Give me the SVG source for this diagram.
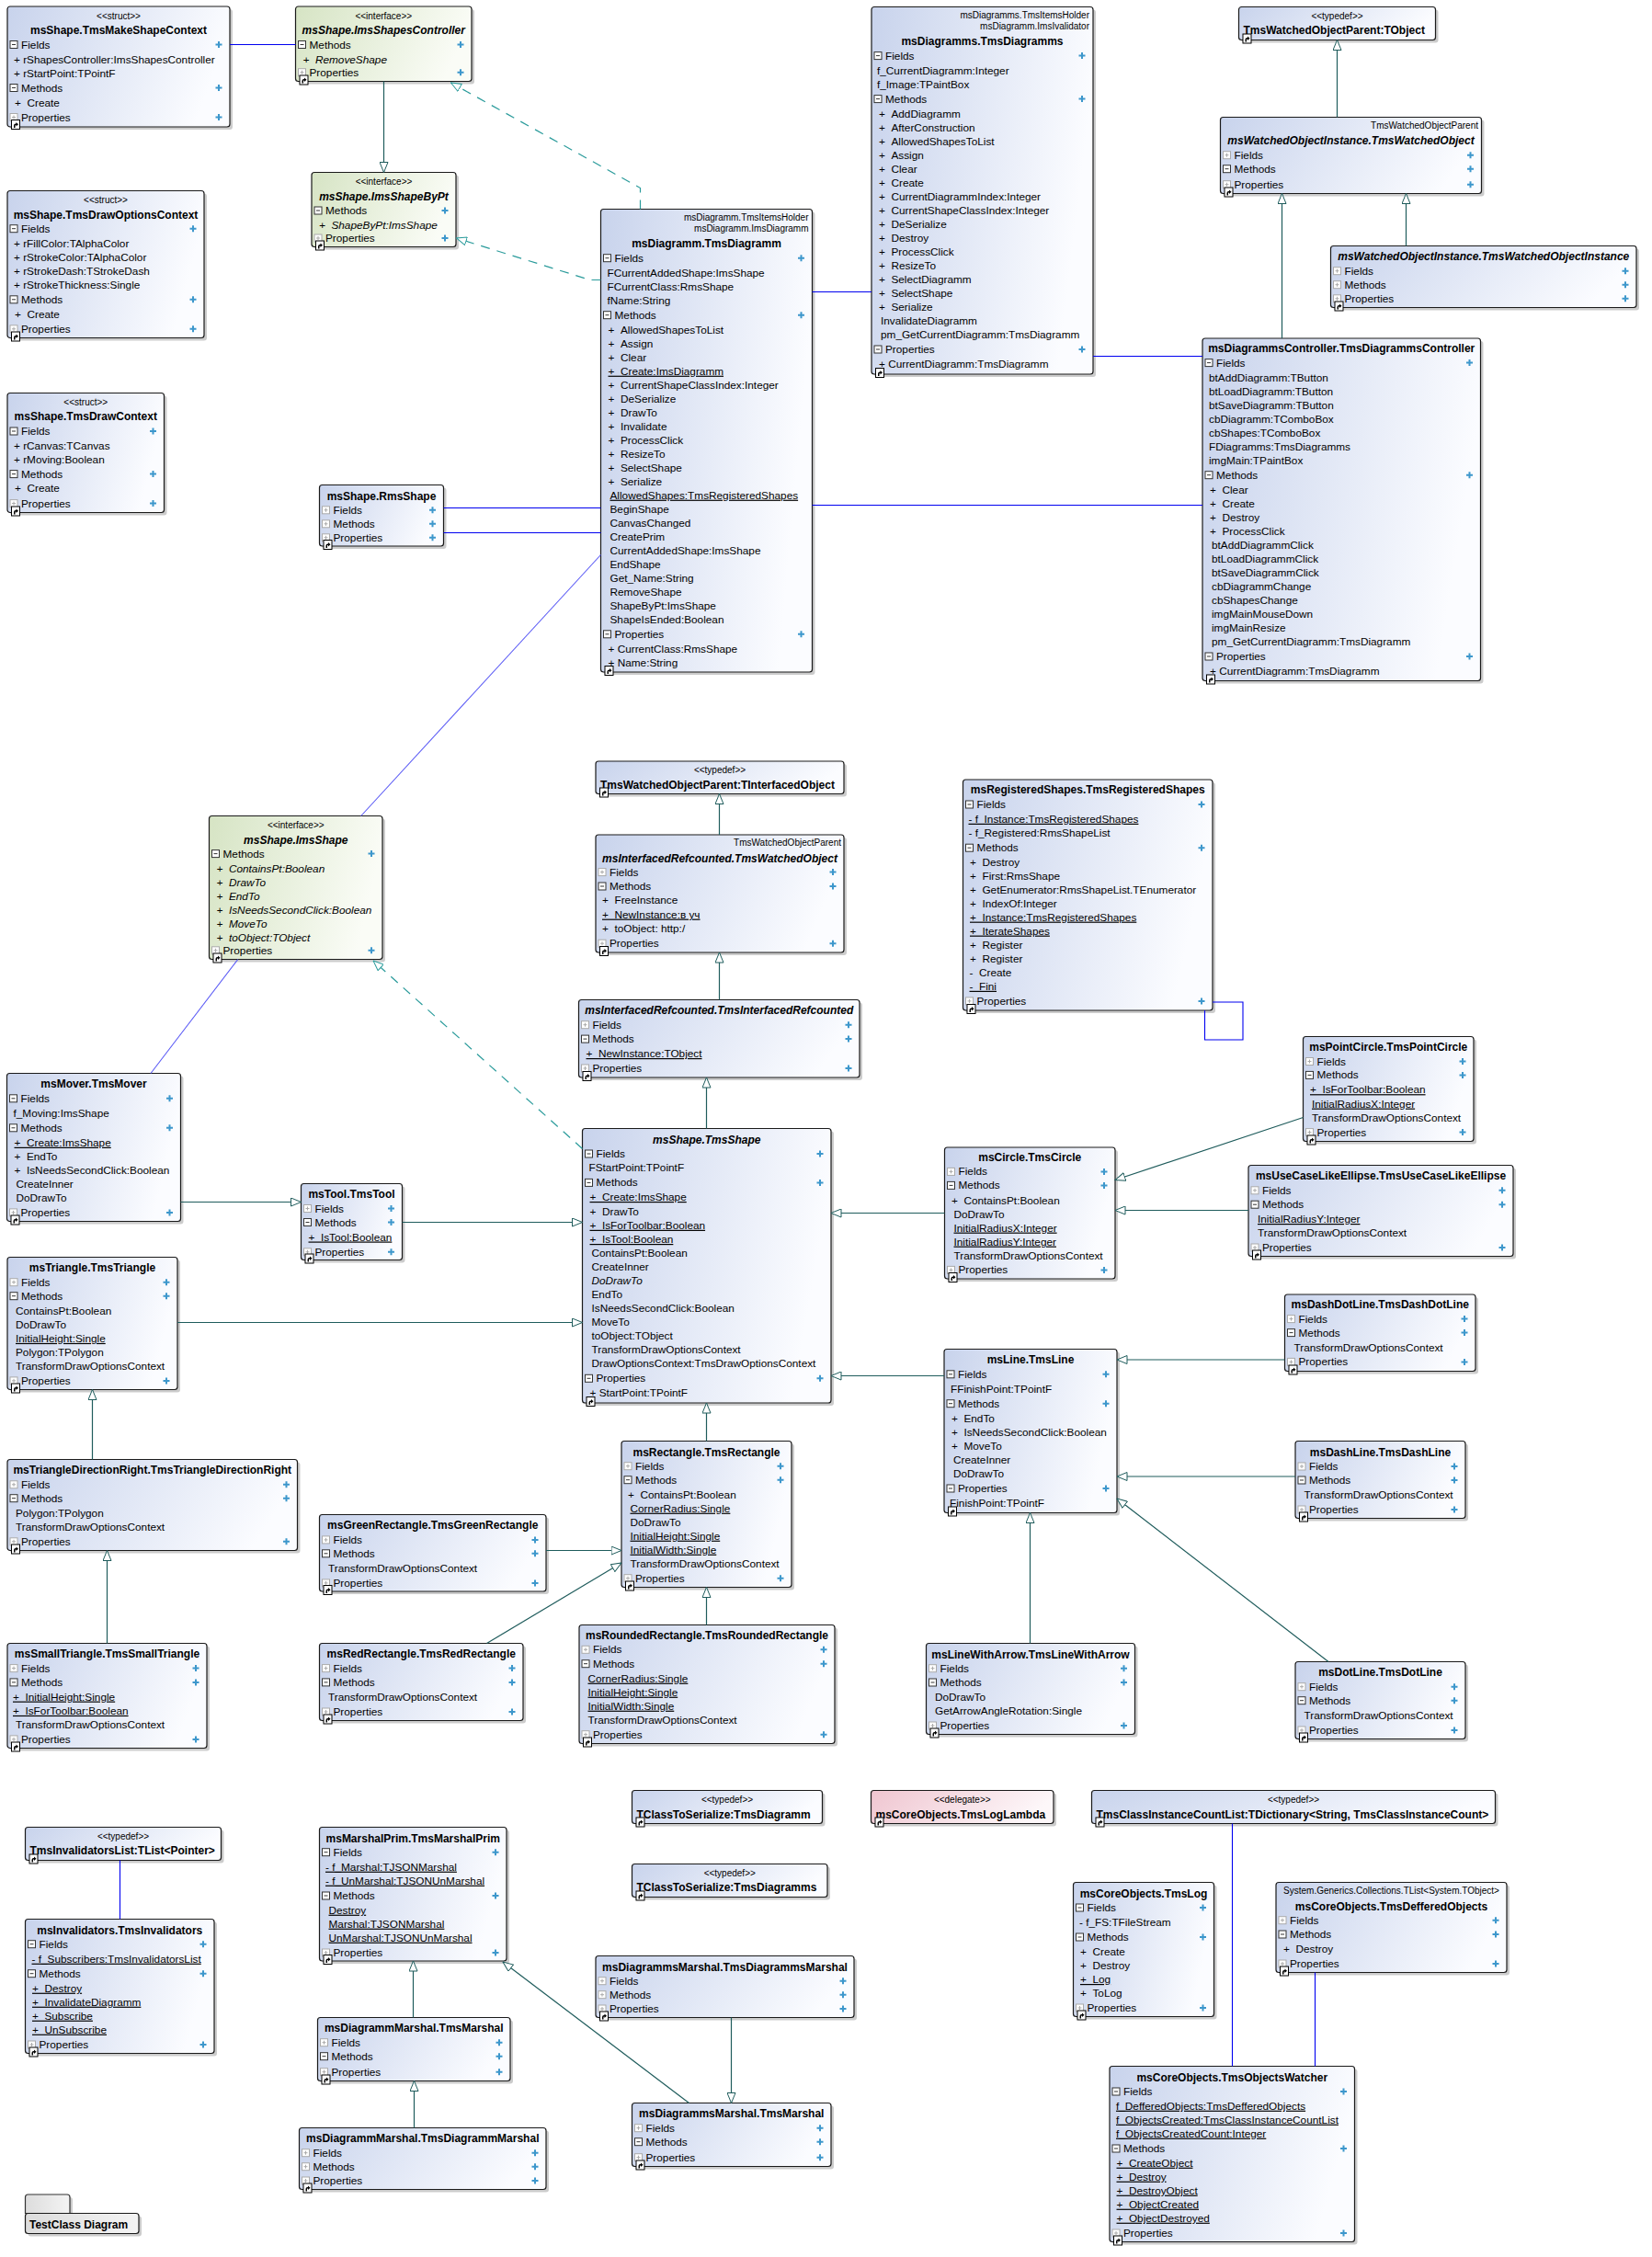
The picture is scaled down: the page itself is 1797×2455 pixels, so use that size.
<svg xmlns="http://www.w3.org/2000/svg" xmlns:xlink="http://www.w3.org/1999/xlink" width="1797" height="2455" viewBox="0 0 1797 2455">
<style>
text{font-family:"Liberation Sans",Arial,sans-serif;fill:#000}
.m{font-size:11.8px}
.t{font-size:12px;font-weight:bold;text-anchor:middle}
.tl{font-size:12px;font-weight:bold}
.it{font-style:italic}
.s{font-size:10px;text-anchor:middle}
.sr{font-size:10px;text-anchor:end}
.u{text-decoration:underline}
.bx{stroke:#1a1a1a;stroke-width:1.2;rx:3px}
.sd{fill:#000;opacity:.2;rx:3px}
.b{fill:url(#gb)}.g{fill:url(#gg)}.p{fill:url(#gp)}.k{fill:url(#gk)}
.as{stroke:#0000f0;stroke-width:1.1;fill:none}
.al{stroke:#5a5af5;stroke-width:1.1;fill:none}
.ge{stroke:#1f5c5c;stroke-width:1.2;fill:none;marker-end:url(#mg)}
.re{stroke:#2a9b9b;stroke-width:1.2;fill:none;stroke-dasharray:10 8;marker-end:url(#mr)}
</style>
<defs>
<linearGradient id="gb" x1="0" y1="0" x2="1" y2="0.2"><stop offset="0" stop-color="#c8d3ec"/><stop offset="1" stop-color="#fbfcff"/></linearGradient>
<linearGradient id="gg" x1="0" y1="0" x2="1" y2="0.2"><stop offset="0" stop-color="#d6e4c4"/><stop offset="1" stop-color="#fafcf6"/></linearGradient>
<linearGradient id="gp" x1="0" y1="0" x2="1" y2="0.2"><stop offset="0" stop-color="#efc5d0"/><stop offset="1" stop-color="#fdf7f9"/></linearGradient>
<linearGradient id="gk" x1="0" y1="0" x2="1" y2="0"><stop offset="0" stop-color="#dcdcdc"/><stop offset="1" stop-color="#f4f4f4"/></linearGradient>
<marker id="mg" viewBox="0 0 12 10" refX="11.5" refY="5" markerWidth="12" markerHeight="10" markerUnits="userSpaceOnUse" orient="auto"><path d="M0.5,0.5 L11.5,5 L0.5,9.5 Z" fill="#fff" stroke="#1f5c5c" stroke-width="1"/></marker>
<marker id="mr" viewBox="0 0 12 10" refX="11.5" refY="5" markerWidth="12" markerHeight="10" markerUnits="userSpaceOnUse" orient="auto"><path d="M0.5,0.5 L11.5,5 L0.5,9.5 Z" fill="#fff" stroke="#2a9b9b" stroke-width="1"/></marker>
<g id="E"><rect x="-4" y="-4" width="8" height="8" fill="#fff" stroke="#333"/><path d="M-2,0H2" stroke="#333"/></g>
<g id="C"><rect x="-4" y="-4" width="8" height="8" fill="#fff" stroke="#aaa"/><path d="M-2,0H2M0,-2V2" stroke="#aaa"/></g>
<g id="P"><path d="M-3.5,0H3.5M0,-3.5V3.5" stroke="#3d97cc" stroke-width="2"/></g>
<g id="K"><rect x="0.5" y="0.5" width="9" height="10" fill="#fff" stroke="#000"/><path d="M3,9 V6.5 Q3,4.5 5,4.5 H5.5 V3 L8,5.2 L5.5,7.5 V6 H5 Q4.5,6 4.5,7 V9 Z" fill="#000"/></g>
</defs>
<rect width="1797" height="2455" fill="#fff"/>

<g id="n-TmsMakeShapeContext">
<rect class="sd" x="11" y="10" width="242" height="131"/><rect class="bx b" x="8" y="7" width="242" height="131"/>
<text class="s" x="129" y="21">&lt;&lt;struct&gt;&gt;</text>
<text class="t" x="129" y="37">msShape.TmsMakeShapeContext</text>
<use href="#E" x="15" y="48.5"/><text class="m" x="23" y="52.5">Fields</text><use href="#P" x="238" y="48.5"/>
<text class="m" x="15" y="68.5">+&#160;rShapesController:ImsShapesController</text>
<text class="m" x="15" y="83.5">+&#160;rStartPoint:TPointF</text>
<use href="#E" x="15" y="95.5"/><text class="m" x="23" y="99.5">Methods</text><use href="#P" x="238" y="95.5"/>
<text class="m" x="16" y="116">+&#160;&#160;Create</text>
<use href="#C" x="15" y="127.5"/><text class="m" x="23" y="131.5">Properties</text><use href="#P" x="238" y="127.5"/>
<use href="#K" x="12" y="130"/>
</g>

<g id="n-ImsShapesController">
<rect class="sd" x="324.5" y="10" width="191.5" height="81.5"/><rect class="bx g" x="321.5" y="7" width="191.5" height="81.5"/>
<text class="s" x="417.25" y="21">&lt;&lt;interface&gt;&gt;</text>
<text class="t it" x="417.25" y="37">msShape.ImsShapesController</text>
<use href="#E" x="328.5" y="48.5"/><text class="m" x="336.5" y="52.5">Methods</text><use href="#P" x="501" y="48.5"/>
<text class="m it" x="329.5" y="68.5">+&#160;&#160;RemoveShape</text>
<use href="#C" x="328.5" y="78.7"/><text class="m" x="336.5" y="82.7">Properties</text><use href="#P" x="501" y="78.7"/>
<use href="#K" x="325.5" y="81.5"/>
</g>

<g id="n-ImsShapeByPt">
<rect class="sd" x="342" y="190.5" width="157" height="81"/><rect class="bx g" x="339" y="187.5" width="157" height="81"/>
<text class="s" x="417.5" y="200.5">&lt;&lt;interface&gt;&gt;</text>
<text class="t it" x="417.5" y="217.5">msShape.ImsShapeByPt</text>
<use href="#E" x="346" y="229"/><text class="m" x="354" y="233">Methods</text><use href="#P" x="484" y="229"/>
<text class="m it" x="347" y="249">+&#160;&#160;ShapeByPt:ImsShape</text>
<use href="#C" x="346" y="259"/><text class="m" x="354" y="263">Properties</text><use href="#P" x="484" y="259"/>
<use href="#K" x="343" y="261.5"/>
</g>

<g id="n-TmsDrawOptionsContext">
<rect class="sd" x="11" y="210.5" width="214" height="160"/><rect class="bx b" x="8" y="207.5" width="214" height="160"/>
<text class="s" x="115" y="221">&lt;&lt;struct&gt;&gt;</text>
<text class="t" x="115" y="237.5">msShape.TmsDrawOptionsContext</text>
<use href="#E" x="15" y="248.7"/><text class="m" x="23" y="252.7">Fields</text><use href="#P" x="210" y="248.7"/>
<text class="m" x="15" y="268.5">+&#160;rFillColor:TAlphaColor</text>
<text class="m" x="15" y="283.6">+&#160;rStrokeColor:TAlphaColor</text>
<text class="m" x="15" y="298.6">+&#160;rStrokeDash:TStrokeDash</text>
<text class="m" x="15" y="313.6">+&#160;rStrokeThickness:Single</text>
<use href="#E" x="15" y="325.8"/><text class="m" x="23" y="329.8">Methods</text><use href="#P" x="210" y="325.8"/>
<text class="m" x="16" y="345.6">+&#160;&#160;Create</text>
<use href="#C" x="15" y="357.8"/><text class="m" x="23" y="361.8">Properties</text><use href="#P" x="210" y="357.8"/>
<use href="#K" x="12" y="360.5"/>
</g>

<g id="n-TmsDrawContext">
<rect class="sd" x="11" y="430.5" width="170.5" height="130"/><rect class="bx b" x="8" y="427.5" width="170.5" height="130"/>
<text class="s" x="93.25" y="440.5">&lt;&lt;struct&gt;&gt;</text>
<text class="t" x="93.25" y="457">msShape.TmsDrawContext</text>
<use href="#E" x="15" y="469"/><text class="m" x="23" y="473">Fields</text><use href="#P" x="166.5" y="469"/>
<text class="m" x="15" y="488.8">+&#160;rCanvas:TCanvas</text>
<text class="m" x="15" y="503.8">+&#160;rMoving:Boolean</text>
<use href="#E" x="15" y="515.6"/><text class="m" x="23" y="519.6">Methods</text><use href="#P" x="166.5" y="515.6"/>
<text class="m" x="16" y="535.4">+&#160;&#160;Create</text>
<use href="#C" x="15" y="547.6"/><text class="m" x="23" y="551.6">Properties</text><use href="#P" x="166.5" y="547.6"/>
<use href="#K" x="12" y="550.5"/>
</g>

<g id="n-RmsShape">
<rect class="sd" x="350.5" y="530.5" width="135" height="66.5"/><rect class="bx b" x="347.5" y="527.5" width="135" height="66.5"/>
<text class="t" x="415" y="543.5">msShape.RmsShape</text>
<use href="#C" x="354.5" y="554.8"/><text class="m" x="362.5" y="558.8">Fields</text><use href="#P" x="470.5" y="554.8"/>
<use href="#C" x="354.5" y="569.8"/><text class="m" x="362.5" y="573.8">Methods</text><use href="#P" x="470.5" y="569.8"/>
<use href="#C" x="354.5" y="584.8"/><text class="m" x="362.5" y="588.8">Properties</text><use href="#P" x="470.5" y="584.8"/>
<use href="#K" x="351.5" y="587"/>
</g>

<g id="n-TmsDiagramm">
<rect class="sd" x="656.5" y="230.5" width="230" height="503.5"/><rect class="bx b" x="653.5" y="227.5" width="230" height="503.5"/>
<text class="sr" x="879.5" y="240">msDiagramm.TmsItemsHolder</text>
<text class="sr" x="879.5" y="252">msDiagramm.ImsDiagramm</text>
<text class="t" x="768.5" y="269">msDiagramm.TmsDiagramm</text>
<use href="#E" x="660.5" y="280.7"/><text class="m" x="668.5" y="284.7">Fields</text><use href="#P" x="871.5" y="280.7"/>
<text class="m" x="660.5" y="300.7">FCurrentAddedShape:ImsShape</text>
<text class="m" x="660.5" y="315.7">FCurrentClass:RmsShape</text>
<text class="m" x="660.5" y="330.7">fName:String</text>
<use href="#E" x="660.5" y="342.7"/><text class="m" x="668.5" y="346.7">Methods</text><use href="#P" x="871.5" y="342.7"/>
<text class="m" x="661.5" y="362.7">+&#160;&#160;AllowedShapesToList</text>
<text class="m" x="661.5" y="377.7">+&#160;&#160;Assign</text>
<text class="m" x="661.5" y="392.7">+&#160;&#160;Clear</text>
<text class="m u" x="661.5" y="407.7">+&#160;&#160;Create:ImsDiagramm</text>
<text class="m" x="661.5" y="422.7">+&#160;&#160;CurrentShapeClassIndex:Integer</text>
<text class="m" x="661.5" y="437.7">+&#160;&#160;DeSerialize</text>
<text class="m" x="661.5" y="452.7">+&#160;&#160;DrawTo</text>
<text class="m" x="661.5" y="467.7">+&#160;&#160;Invalidate</text>
<text class="m" x="661.5" y="482.7">+&#160;&#160;ProcessClick</text>
<text class="m" x="661.5" y="497.7">+&#160;&#160;ResizeTo</text>
<text class="m" x="661.5" y="512.7">+&#160;&#160;SelectShape</text>
<text class="m" x="661.5" y="527.7">+&#160;&#160;Serialize</text>
<text class="m u" x="663.5" y="542.7">AllowedShapes:TmsRegisteredShapes</text>
<text class="m" x="663.5" y="557.7">BeginShape</text>
<text class="m" x="663.5" y="572.7">CanvasChanged</text>
<text class="m" x="663.5" y="587.7">CreatePrim</text>
<text class="m" x="663.5" y="602.7">CurrentAddedShape:ImsShape</text>
<text class="m" x="663.5" y="617.7">EndShape</text>
<text class="m" x="663.5" y="632.7">Get_Name:String</text>
<text class="m" x="663.5" y="647.7">RemoveShape</text>
<text class="m" x="663.5" y="662.7">ShapeByPt:ImsShape</text>
<text class="m" x="663.5" y="677.7">ShapeIsEnded:Boolean</text>
<use href="#E" x="660.5" y="689.8"/><text class="m" x="668.5" y="693.8">Properties</text><use href="#P" x="871.5" y="689.8"/>
<text class="m" x="661.5" y="709.8">+&#160;CurrentClass:RmsShape</text>
<text class="m" x="661.5" y="724.8">+&#160;Name:String</text>
<use href="#K" x="657.5" y="724"/>
</g>

<g id="n-TmsDiagramms">
<rect class="sd" x="951" y="10.5" width="241" height="399.5"/><rect class="bx b" x="948" y="7.5" width="241" height="399.5"/>
<text class="sr" x="1185" y="20">msDiagramms.TmsItemsHolder</text>
<text class="sr" x="1185" y="32">msDiagramm.ImsIvalidator</text>
<text class="t" x="1068.5" y="49">msDiagramms.TmsDiagramms</text>
<use href="#E" x="955" y="60.6"/><text class="m" x="963" y="64.6">Fields</text><use href="#P" x="1177" y="60.6"/>
<text class="m" x="954" y="80.6">f_CurrentDiagramm:Integer</text>
<text class="m" x="954" y="95.6">f_Image:TPaintBox</text>
<use href="#E" x="955" y="107.6"/><text class="m" x="963" y="111.6">Methods</text><use href="#P" x="1177" y="107.6"/>
<text class="m" x="956" y="127.6">+&#160;&#160;AddDiagramm</text>
<text class="m" x="956" y="142.6">+&#160;&#160;AfterConstruction</text>
<text class="m" x="956" y="157.6">+&#160;&#160;AllowedShapesToList</text>
<text class="m" x="956" y="172.6">+&#160;&#160;Assign</text>
<text class="m" x="956" y="187.6">+&#160;&#160;Clear</text>
<text class="m" x="956" y="202.6">+&#160;&#160;Create</text>
<text class="m" x="956" y="217.6">+&#160;&#160;CurrentDiagrammIndex:Integer</text>
<text class="m" x="956" y="232.6">+&#160;&#160;CurrentShapeClassIndex:Integer</text>
<text class="m" x="956" y="247.6">+&#160;&#160;DeSerialize</text>
<text class="m" x="956" y="262.6">+&#160;&#160;Destroy</text>
<text class="m" x="956" y="277.6">+&#160;&#160;ProcessClick</text>
<text class="m" x="956" y="292.6">+&#160;&#160;ResizeTo</text>
<text class="m" x="956" y="307.6">+&#160;&#160;SelectDiagramm</text>
<text class="m" x="956" y="322.6">+&#160;&#160;SelectShape</text>
<text class="m" x="956" y="337.6">+&#160;&#160;Serialize</text>
<text class="m" x="958" y="352.6">InvalidateDiagramm</text>
<text class="m" x="958" y="367.6">pm_GetCurrentDiagramm:TmsDiagramm</text>
<use href="#E" x="955" y="380"/><text class="m" x="963" y="384">Properties</text><use href="#P" x="1177" y="380"/>
<text class="m" x="956" y="400">+&#160;CurrentDiagramm:TmsDiagramm</text>
<use href="#K" x="952" y="400"/>
</g>

<g id="n-TmsWatchedObjectParentTObject">
<rect class="sd" x="1350.5" y="10.5" width="214" height="36"/><rect class="bx b" x="1347.5" y="7.5" width="214" height="36"/>
<text class="s" x="1454.5" y="20.5">&lt;&lt;typedef&gt;&gt;</text>
<text class="tl" x="1352.5" y="37">TmsWatchedObjectParent:TObject</text>
<use href="#K" x="1351.5" y="36.5"/>
</g>

<g id="n-TmsWatchedObject1">
<rect class="sd" x="1330.5" y="130.5" width="284" height="83"/><rect class="bx b" x="1327.5" y="127.5" width="284" height="83"/>
<text class="sr" x="1608" y="140">TmsWatchedObjectParent</text>
<text class="t it" x="1469.5" y="157">msWatchedObjectInstance.TmsWatchedObject</text>
<use href="#C" x="1334.5" y="168.7"/><text class="m" x="1342.5" y="172.7">Fields</text><use href="#P" x="1599.5" y="168.7"/>
<use href="#E" x="1334.5" y="183.7"/><text class="m" x="1342.5" y="187.7">Methods</text><use href="#P" x="1599.5" y="183.7"/>
<use href="#C" x="1334.5" y="200.7"/><text class="m" x="1342.5" y="204.7">Properties</text><use href="#P" x="1599.5" y="200.7"/>
<use href="#K" x="1331.5" y="203.5"/>
</g>

<g id="n-TmsWatchedObjectInstance">
<rect class="sd" x="1450.5" y="270.5" width="332.5" height="67"/><rect class="bx b" x="1447.5" y="267.5" width="332.5" height="67"/>
<text class="t it" x="1613.75" y="283">msWatchedObjectInstance.TmsWatchedObjectInstance</text>
<use href="#C" x="1454.5" y="294.7"/><text class="m" x="1462.5" y="298.7">Fields</text><use href="#P" x="1768" y="294.7"/>
<use href="#C" x="1454.5" y="309.7"/><text class="m" x="1462.5" y="313.7">Methods</text><use href="#P" x="1768" y="309.7"/>
<use href="#C" x="1454.5" y="324.8"/><text class="m" x="1462.5" y="328.8">Properties</text><use href="#P" x="1768" y="324.8"/>
<use href="#K" x="1451.5" y="327.5"/>
</g>

<g id="n-TmsDiagrammsController">
<rect class="sd" x="1311" y="371" width="302.5" height="372.5"/><rect class="bx b" x="1308" y="368" width="302.5" height="372.5"/>
<text class="t" x="1459.25" y="383">msDiagrammsController.TmsDiagrammsController</text>
<use href="#E" x="1315" y="394.6"/><text class="m" x="1323" y="398.6">Fields</text><use href="#P" x="1598.5" y="394.6"/>
<text class="m" x="1315" y="414.6">btAddDiagramm:TButton</text>
<text class="m" x="1315" y="429.6">btLoadDiagramm:TButton</text>
<text class="m" x="1315" y="444.6">btSaveDiagramm:TButton</text>
<text class="m" x="1315" y="459.6">cbDiagramm:TComboBox</text>
<text class="m" x="1315" y="474.6">cbShapes:TComboBox</text>
<text class="m" x="1315" y="489.6">FDiagramms:TmsDiagramms</text>
<text class="m" x="1315" y="504.6">imgMain:TPaintBox</text>
<use href="#E" x="1315" y="516.7"/><text class="m" x="1323" y="520.7">Methods</text><use href="#P" x="1598.5" y="516.7"/>
<text class="m" x="1316" y="536.7">+&#160;&#160;Clear</text>
<text class="m" x="1316" y="551.7">+&#160;&#160;Create</text>
<text class="m" x="1316" y="566.7">+&#160;&#160;Destroy</text>
<text class="m" x="1316" y="581.7">+&#160;&#160;ProcessClick</text>
<text class="m" x="1318" y="596.7">btAddDiagrammClick</text>
<text class="m" x="1318" y="611.7">btLoadDiagrammClick</text>
<text class="m" x="1318" y="626.7">btSaveDiagrammClick</text>
<text class="m" x="1318" y="641.7">cbDiagrammChange</text>
<text class="m" x="1318" y="656.7">cbShapesChange</text>
<text class="m" x="1318" y="671.7">imgMainMouseDown</text>
<text class="m" x="1318" y="686.7">imgMainResize</text>
<text class="m" x="1318" y="701.7">pm_GetCurrentDiagramm:TmsDiagramm</text>
<use href="#E" x="1315" y="714"/><text class="m" x="1323" y="718">Properties</text><use href="#P" x="1598.5" y="714"/>
<text class="m" x="1316" y="733.5">+&#160;CurrentDiagramm:TmsDiagramm</text>
<use href="#K" x="1312" y="733.5"/>
</g>

<g id="n-ImsShape">
<rect class="sd" x="230.5" y="890.5" width="188.5" height="156"/><rect class="bx g" x="227.5" y="887.5" width="188.5" height="156"/>
<text class="s" x="321.75" y="900.5">&lt;&lt;interface&gt;&gt;</text>
<text class="t it" x="321.75" y="917.5">msShape.ImsShape</text>
<use href="#E" x="234.5" y="928.6"/><text class="m" x="242.5" y="932.6">Methods</text><use href="#P" x="404" y="928.6"/>
<text class="m it" x="235.5" y="948.6">+&#160;&#160;ContainsPt:Boolean</text>
<text class="m it" x="235.5" y="963.6">+&#160;&#160;DrawTo</text>
<text class="m it" x="235.5" y="978.6">+&#160;&#160;EndTo</text>
<text class="m it" x="235.5" y="993.6">+&#160;&#160;IsNeedsSecondClick:Boolean</text>
<text class="m it" x="235.5" y="1008.6">+&#160;&#160;MoveTo</text>
<text class="m it" x="235.5" y="1023.6">+&#160;&#160;toObject:TObject</text>
<use href="#C" x="234.5" y="1033.8"/><text class="m" x="242.5" y="1037.8">Properties</text><use href="#P" x="404" y="1033.8"/>
<use href="#K" x="231.5" y="1036.5"/>
</g>

<g id="n-TmsMover">
<rect class="sd" x="10.5" y="1170.5" width="189" height="161"/><rect class="bx b" x="7.5" y="1167.5" width="189" height="161"/>
<text class="t" x="102" y="1183.3">msMover.TmsMover</text>
<use href="#E" x="14.5" y="1194.8"/><text class="m" x="22.5" y="1198.8">Fields</text><use href="#P" x="184.5" y="1194.8"/>
<text class="m" x="14.5" y="1214.8">f_Moving:ImsShape</text>
<use href="#E" x="14.5" y="1226.8"/><text class="m" x="22.5" y="1230.8">Methods</text><use href="#P" x="184.5" y="1226.8"/>
<text class="m u" x="15.5" y="1246.8">+&#160;&#160;Create:ImsShape</text>
<text class="m" x="15.5" y="1261.8">+&#160;&#160;EndTo</text>
<text class="m" x="15.5" y="1276.8">+&#160;&#160;IsNeedsSecondClick:Boolean</text>
<text class="m" x="17.5" y="1291.8">CreateInner</text>
<text class="m" x="17.5" y="1306.8">DoDrawTo</text>
<use href="#C" x="14.5" y="1318.9"/><text class="m" x="22.5" y="1322.9">Properties</text><use href="#P" x="184.5" y="1318.9"/>
<use href="#K" x="11.5" y="1321.5"/>
</g>

<g id="n-TmsTool">
<rect class="sd" x="330.5" y="1290.5" width="110" height="83"/><rect class="bx b" x="327.5" y="1287.5" width="110" height="83"/>
<text class="t" x="382.5" y="1303">msTool.TmsTool</text>
<use href="#C" x="334.5" y="1314.5"/><text class="m" x="342.5" y="1318.5">Fields</text><use href="#P" x="425.5" y="1314.5"/>
<use href="#E" x="334.5" y="1329.5"/><text class="m" x="342.5" y="1333.5">Methods</text><use href="#P" x="425.5" y="1329.5"/>
<text class="m u" x="335.5" y="1349.5">+&#160;&#160;IsTool:Boolean</text>
<use href="#C" x="334.5" y="1361.8"/><text class="m" x="342.5" y="1365.8">Properties</text><use href="#P" x="425.5" y="1361.8"/>
<use href="#K" x="331.5" y="1363.5"/>
</g>

<g id="n-TmsWatchedObjectParentTInterfacedObject">
<rect class="sd" x="651" y="831" width="270" height="35.5"/><rect class="bx b" x="648" y="828" width="270" height="35.5"/>
<text class="s" x="783" y="841">&lt;&lt;typedef&gt;&gt;</text>
<text class="tl" x="653" y="857.5">TmsWatchedObjectParent:TInterfacedObject</text>
<use href="#K" x="652" y="856.5"/>
</g>

<g id="n-TmsWatchedObject2">
<rect class="sd" x="651" y="911" width="270" height="128"/><rect class="bx b" x="648" y="908" width="270" height="128"/>
<text class="sr" x="915" y="920">TmsWatchedObjectParent</text>
<text class="t it" x="783" y="937.5">msInterfacedRefcounted.TmsWatchedObject</text>
<use href="#C" x="655" y="948.6"/><text class="m" x="663" y="952.6">Fields</text><use href="#P" x="906" y="948.6"/>
<use href="#E" x="655" y="964"/><text class="m" x="663" y="968">Methods</text><use href="#P" x="906" y="964"/>
<text class="m" x="655" y="983.4">+&#160;&#160;FreeInstance</text>
<text class="m u" x="655" y="998.6">+&#160;&#160;NewInstance:в уч</text>
<text class="m" x="655" y="1013.8">+&#160;&#160;toObject: http:/</text>
<use href="#C" x="655" y="1026.2"/><text class="m" x="663" y="1030.2">Properties</text><use href="#P" x="906" y="1026.2"/>
<use href="#K" x="652" y="1029"/>
</g>

<g id="n-TmsInterfacedRefcounted">
<rect class="sd" x="632.5" y="1090.5" width="305.5" height="84.5"/><rect class="bx b" x="629.5" y="1087.5" width="305.5" height="84.5"/>
<text class="t it" x="782.25" y="1103">msInterfacedRefcounted.TmsInterfacedRefcounted</text>
<use href="#C" x="636.5" y="1114.7"/><text class="m" x="644.5" y="1118.7">Fields</text><use href="#P" x="923" y="1114.7"/>
<use href="#E" x="636.5" y="1130.1"/><text class="m" x="644.5" y="1134.1">Methods</text><use href="#P" x="923" y="1130.1"/>
<text class="m u" x="637.5" y="1150">+&#160;&#160;NewInstance:TObject</text>
<use href="#C" x="636.5" y="1162"/><text class="m" x="644.5" y="1166">Properties</text><use href="#P" x="923" y="1162"/>
<use href="#K" x="633.5" y="1165"/>
</g>

<g id="n-TmsShape">
<rect class="sd" x="636.5" y="1230.5" width="270.5" height="298.5"/><rect class="bx b" x="633.5" y="1227.5" width="270.5" height="298.5"/>
<text class="t it" x="768.75" y="1243.5">msShape.TmsShape</text>
<use href="#E" x="640.5" y="1255"/><text class="m" x="648.5" y="1259">Fields</text><use href="#P" x="892" y="1255"/>
<text class="m" x="640.5" y="1274.4">FStartPoint:TPointF</text>
<use href="#E" x="640.5" y="1286.4"/><text class="m" x="648.5" y="1290.4">Methods</text><use href="#P" x="892" y="1286.4"/>
<text class="m u" x="641.5" y="1306">+&#160;&#160;Create:ImsShape</text>
<text class="m" x="641.5" y="1321.5">+&#160;&#160;DrawTo</text>
<text class="m u" x="641.5" y="1336.8">+&#160;&#160;IsForToolbar:Boolean</text>
<text class="m u" x="641.5" y="1352">+&#160;&#160;IsTool:Boolean</text>
<text class="m" x="643.5" y="1367">ContainsPt:Boolean</text>
<text class="m" x="643.5" y="1382">CreateInner</text>
<text class="m it" x="643.5" y="1397">DoDrawTo</text>
<text class="m" x="643.5" y="1412">EndTo</text>
<text class="m" x="643.5" y="1427">IsNeedsSecondClick:Boolean</text>
<text class="m" x="643.5" y="1442">MoveTo</text>
<text class="m" x="643.5" y="1457">toObject:TObject</text>
<text class="m" x="643.5" y="1472">TransformDrawOptionsContext</text>
<text class="m" x="643.5" y="1487">DrawOptionsContext:TmsDrawOptionsContext</text>
<use href="#E" x="640.5" y="1499.3"/><text class="m" x="648.5" y="1503.3">Properties</text><use href="#P" x="892" y="1499.3"/>
<text class="m" x="641.5" y="1518.7">+&#160;StartPoint:TPointF</text>
<use href="#K" x="637.5" y="1519"/>
</g>

<g id="n-TmsRegisteredShapes">
<rect class="sd" x="1050.5" y="851" width="271.5" height="251"/><rect class="bx b" x="1047.5" y="848" width="271.5" height="251"/>
<text class="t" x="1183.25" y="863">msRegisteredShapes.TmsRegisteredShapes</text>
<use href="#E" x="1054.5" y="875"/><text class="m" x="1062.5" y="879">Fields</text><use href="#P" x="1307" y="875"/>
<text class="m u" x="1053.5" y="894.8">-&#160;f_Instance:TmsRegisteredShapes</text>
<text class="m" x="1053.5" y="909.8">-&#160;f_Registered:RmsShapeList</text>
<use href="#E" x="1054.5" y="922.2"/><text class="m" x="1062.5" y="926.2">Methods</text><use href="#P" x="1307" y="922.2"/>
<text class="m" x="1055" y="941.6">+&#160;&#160;Destroy</text>
<text class="m" x="1055" y="956.6">+&#160;&#160;First:RmsShape</text>
<text class="m" x="1055" y="971.6">+&#160;&#160;GetEnumerator:RmsShapeList.TEnumerator</text>
<text class="m" x="1055" y="986.6">+&#160;&#160;IndexOf:Integer</text>
<text class="m u" x="1055" y="1001.6">+&#160;&#160;Instance:TmsRegisteredShapes</text>
<text class="m u" x="1055" y="1016.6">+&#160;&#160;IterateShapes</text>
<text class="m" x="1055" y="1031.6">+&#160;&#160;Register</text>
<text class="m" x="1055" y="1046.6">+&#160;&#160;Register</text>
<text class="m" x="1054.5" y="1061.6">-&#160;&#160;Create</text>
<text class="m u" x="1054.5" y="1076.8">-&#160;&#160;Fini</text>
<use href="#C" x="1054.5" y="1088.9"/><text class="m" x="1062.5" y="1092.9">Properties</text><use href="#P" x="1307" y="1088.9"/>
<use href="#K" x="1051.5" y="1092"/>
</g>

<g id="n-TmsPointCircle">
<rect class="sd" x="1420.5" y="1130.5" width="185.5" height="114"/><rect class="bx b" x="1417.5" y="1127.5" width="185.5" height="114"/>
<text class="t" x="1510.25" y="1143">msPointCircle.TmsPointCircle</text>
<use href="#C" x="1424.5" y="1154.5"/><text class="m" x="1432.5" y="1158.5">Fields</text><use href="#P" x="1591" y="1154.5"/>
<use href="#E" x="1424.5" y="1169.4"/><text class="m" x="1432.5" y="1173.4">Methods</text><use href="#P" x="1591" y="1169.4"/>
<text class="m u" x="1425" y="1189.2">+&#160;&#160;IsForToolbar:Boolean</text>
<text class="m u" x="1427" y="1204.6">InitialRadiusX:Integer</text>
<text class="m" x="1427" y="1219.6">TransformDrawOptionsContext</text>
<use href="#C" x="1424.5" y="1231.6"/><text class="m" x="1432.5" y="1235.6">Properties</text><use href="#P" x="1591" y="1231.6"/>
<use href="#K" x="1421.5" y="1234.5"/>
</g>

<g id="n-TmsCircle">
<rect class="sd" x="1030.5" y="1251" width="185.5" height="143"/><rect class="bx b" x="1027.5" y="1248" width="185.5" height="143"/>
<text class="t" x="1120.25" y="1263">msCircle.TmsCircle</text>
<use href="#C" x="1034.5" y="1274.4"/><text class="m" x="1042.5" y="1278.4">Fields</text><use href="#P" x="1201" y="1274.4"/>
<use href="#E" x="1034.5" y="1289.4"/><text class="m" x="1042.5" y="1293.4">Methods</text><use href="#P" x="1201" y="1289.4"/>
<text class="m" x="1035" y="1309.6">+&#160;&#160;ContainsPt:Boolean</text>
<text class="m" x="1037.5" y="1324.6">DoDrawTo</text>
<text class="m u" x="1037.5" y="1339.6">InitialRadiusX:Integer</text>
<text class="m u" x="1037.5" y="1354.6">InitialRadiusY:Integer</text>
<text class="m" x="1037.5" y="1369.6">TransformDrawOptionsContext</text>
<use href="#C" x="1034.5" y="1381.4"/><text class="m" x="1042.5" y="1385.4">Properties</text><use href="#P" x="1201" y="1381.4"/>
<use href="#K" x="1031.5" y="1384"/>
</g>

<g id="n-TmsUseCaseLikeEllipse">
<rect class="sd" x="1361" y="1270.5" width="288" height="99"/><rect class="bx b" x="1358" y="1267.5" width="288" height="99"/>
<text class="t" x="1502" y="1283">msUseCaseLikeEllipse.TmsUseCaseLikeEllipse</text>
<use href="#C" x="1365" y="1294.8"/><text class="m" x="1373" y="1298.8">Fields</text><use href="#P" x="1634" y="1294.8"/>
<use href="#E" x="1365" y="1310.2"/><text class="m" x="1373" y="1314.2">Methods</text><use href="#P" x="1634" y="1310.2"/>
<text class="m u" x="1368" y="1330">InitialRadiusY:Integer</text>
<text class="m" x="1368" y="1345">TransformDrawOptionsContext</text>
<use href="#C" x="1365" y="1357"/><text class="m" x="1373" y="1361">Properties</text><use href="#P" x="1634" y="1357"/>
<use href="#K" x="1362" y="1359.5"/>
</g>

<g id="n-TmsDashDotLine">
<rect class="sd" x="1400.5" y="1411" width="207.5" height="83.5"/><rect class="bx b" x="1397.5" y="1408" width="207.5" height="83.5"/>
<text class="t" x="1501.25" y="1423">msDashDotLine.TmsDashDotLine</text>
<use href="#C" x="1404.5" y="1434.6"/><text class="m" x="1412.5" y="1438.6">Fields</text><use href="#P" x="1593" y="1434.6"/>
<use href="#E" x="1404.5" y="1449.6"/><text class="m" x="1412.5" y="1453.6">Methods</text><use href="#P" x="1593" y="1449.6"/>
<text class="m" x="1407.5" y="1469.5">TransformDrawOptionsContext</text>
<use href="#C" x="1404.5" y="1481.4"/><text class="m" x="1412.5" y="1485.4">Properties</text><use href="#P" x="1593" y="1481.4"/>
<use href="#K" x="1401.5" y="1484.5"/>
</g>

<g id="n-TmsLine">
<rect class="sd" x="1030" y="1470.5" width="188" height="178"/><rect class="bx b" x="1027" y="1467.5" width="188" height="178"/>
<text class="t" x="1121" y="1483">msLine.TmsLine</text>
<use href="#E" x="1034" y="1494.8"/><text class="m" x="1042" y="1498.8">Fields</text><use href="#P" x="1203" y="1494.8"/>
<text class="m" x="1034" y="1514.7">FFinishPoint:TPointF</text>
<use href="#E" x="1034" y="1526.7"/><text class="m" x="1042" y="1530.7">Methods</text><use href="#P" x="1203" y="1526.7"/>
<text class="m" x="1035" y="1546.7">+&#160;&#160;EndTo</text>
<text class="m" x="1035" y="1561.7">+&#160;&#160;IsNeedsSecondClick:Boolean</text>
<text class="m" x="1035" y="1576.7">+&#160;&#160;MoveTo</text>
<text class="m" x="1037" y="1591.7">CreateInner</text>
<text class="m" x="1037" y="1606.7">DoDrawTo</text>
<use href="#E" x="1034" y="1619"/><text class="m" x="1042" y="1623">Properties</text><use href="#P" x="1203" y="1619"/>
<text class="m" x="1033" y="1638.7">FinishPoint:TPointF</text>
<use href="#K" x="1031" y="1638.5"/>
</g>

<g id="n-TmsDashLine">
<rect class="sd" x="1412" y="1570.5" width="185" height="84"/><rect class="bx b" x="1409" y="1567.5" width="185" height="84"/>
<text class="t" x="1501.5" y="1583.5">msDashLine.TmsDashLine</text>
<use href="#C" x="1416" y="1595"/><text class="m" x="1424" y="1599">Fields</text><use href="#P" x="1582" y="1595"/>
<use href="#E" x="1416" y="1610"/><text class="m" x="1424" y="1614">Methods</text><use href="#P" x="1582" y="1610"/>
<text class="m" x="1418.5" y="1630">TransformDrawOptionsContext</text>
<use href="#C" x="1416" y="1642"/><text class="m" x="1424" y="1646">Properties</text><use href="#P" x="1582" y="1642"/>
<use href="#K" x="1413" y="1644.5"/>
</g>

<g id="n-TmsTriangle">
<rect class="sd" x="11" y="1370.5" width="185" height="144"/><rect class="bx b" x="8" y="1367.5" width="185" height="144"/>
<text class="t" x="100.5" y="1383">msTriangle.TmsTriangle</text>
<use href="#C" x="15" y="1394.7"/><text class="m" x="23" y="1398.7">Fields</text><use href="#P" x="181" y="1394.7"/>
<use href="#E" x="15" y="1409.7"/><text class="m" x="23" y="1413.7">Methods</text><use href="#P" x="181" y="1409.7"/>
<text class="m" x="17" y="1429.5">ContainsPt:Boolean</text>
<text class="m" x="17" y="1444.7">DoDrawTo</text>
<text class="m u" x="17" y="1459.9">InitialHeight:Single</text>
<text class="m" x="17" y="1475.1">Polygon:TPolygon</text>
<text class="m" x="17" y="1490.3">TransformDrawOptionsContext</text>
<use href="#C" x="15" y="1501.9"/><text class="m" x="23" y="1505.9">Properties</text><use href="#P" x="181" y="1501.9"/>
<use href="#K" x="12" y="1504.5"/>
</g>

<g id="n-TmsTriangleDirectionRight">
<rect class="sd" x="11" y="1590.5" width="315.5" height="99"/><rect class="bx b" x="8" y="1587.5" width="315.5" height="99"/>
<text class="t" x="165.75" y="1603">msTriangleDirectionRight.TmsTriangleDirectionRight</text>
<use href="#C" x="15" y="1614.8"/><text class="m" x="23" y="1618.8">Fields</text><use href="#P" x="311.5" y="1614.8"/>
<use href="#E" x="15" y="1629.7"/><text class="m" x="23" y="1633.7">Methods</text><use href="#P" x="311.5" y="1629.7"/>
<text class="m" x="17" y="1649.8">Polygon:TPolygon</text>
<text class="m" x="17" y="1664.9">TransformDrawOptionsContext</text>
<use href="#C" x="15" y="1676.8"/><text class="m" x="23" y="1680.8">Properties</text><use href="#P" x="311.5" y="1676.8"/>
<use href="#K" x="12" y="1679.5"/>
</g>

<g id="n-TmsSmallTriangle">
<rect class="sd" x="11" y="1790.5" width="217" height="114"/><rect class="bx b" x="8" y="1787.5" width="217" height="114"/>
<text class="t" x="116.5" y="1803">msSmallTriangle.TmsSmallTriangle</text>
<use href="#C" x="15" y="1814.6"/><text class="m" x="23" y="1818.6">Fields</text><use href="#P" x="213" y="1814.6"/>
<use href="#E" x="15" y="1829.9"/><text class="m" x="23" y="1833.9">Methods</text><use href="#P" x="213" y="1829.9"/>
<text class="m u" x="14" y="1849.6">+&#160;&#160;InitialHeight:Single</text>
<text class="m u" x="14" y="1864.9">+&#160;&#160;IsForToolbar:Boolean</text>
<text class="m" x="17" y="1880">TransformDrawOptionsContext</text>
<use href="#C" x="15" y="1891.9"/><text class="m" x="23" y="1895.9">Properties</text><use href="#P" x="213" y="1891.9"/>
<use href="#K" x="12" y="1894.5"/>
</g>

<g id="n-TmsGreenRectangle">
<rect class="sd" x="350.5" y="1650.5" width="246.5" height="83.5"/><rect class="bx b" x="347.5" y="1647.5" width="246.5" height="83.5"/>
<text class="t" x="470.75" y="1663.3">msGreenRectangle.TmsGreenRectangle</text>
<use href="#C" x="354.5" y="1674.9"/><text class="m" x="362.5" y="1678.9">Fields</text><use href="#P" x="582" y="1674.9"/>
<use href="#E" x="354.5" y="1689.8"/><text class="m" x="362.5" y="1693.8">Methods</text><use href="#P" x="582" y="1689.8"/>
<text class="m" x="357" y="1709.9">TransformDrawOptionsContext</text>
<use href="#C" x="354.5" y="1721.9"/><text class="m" x="362.5" y="1725.9">Properties</text><use href="#P" x="582" y="1721.9"/>
<use href="#K" x="351.5" y="1724"/>
</g>

<g id="n-TmsRedRectangle">
<rect class="sd" x="350.5" y="1790.5" width="221.5" height="84"/><rect class="bx b" x="347.5" y="1787.5" width="221.5" height="84"/>
<text class="t" x="458.25" y="1803">msRedRectangle.TmsRedRectangle</text>
<use href="#C" x="354.5" y="1814.6"/><text class="m" x="362.5" y="1818.6">Fields</text><use href="#P" x="557" y="1814.6"/>
<use href="#E" x="354.5" y="1829.9"/><text class="m" x="362.5" y="1833.9">Methods</text><use href="#P" x="557" y="1829.9"/>
<text class="m" x="357" y="1849.9">TransformDrawOptionsContext</text>
<use href="#C" x="354.5" y="1862"/><text class="m" x="362.5" y="1866">Properties</text><use href="#P" x="557" y="1862"/>
<use href="#K" x="351.5" y="1864.5"/>
</g>

<g id="n-TmsRectangle">
<rect class="sd" x="679" y="1570.5" width="185" height="159"/><rect class="bx b" x="676" y="1567.5" width="185" height="159"/>
<text class="t" x="768.5" y="1583.5">msRectangle.TmsRectangle</text>
<use href="#C" x="683" y="1594.7"/><text class="m" x="691" y="1598.7">Fields</text><use href="#P" x="849" y="1594.7"/>
<use href="#E" x="683" y="1609.7"/><text class="m" x="691" y="1613.7">Methods</text><use href="#P" x="849" y="1609.7"/>
<text class="m" x="683" y="1629.7">+&#160;&#160;ContainsPt:Boolean</text>
<text class="m u" x="685.5" y="1644.7">CornerRadius:Single</text>
<text class="m" x="685.5" y="1659.7">DoDrawTo</text>
<text class="m u" x="685.5" y="1674.7">InitialHeight:Single</text>
<text class="m u" x="685.5" y="1689.7">InitialWidth:Single</text>
<text class="m" x="685.5" y="1704.7">TransformDrawOptionsContext</text>
<use href="#C" x="683" y="1716.7"/><text class="m" x="691" y="1720.7">Properties</text><use href="#P" x="849" y="1716.7"/>
<use href="#K" x="680" y="1719.5"/>
</g>

<g id="n-TmsRoundedRectangle">
<rect class="sd" x="633" y="1770.5" width="278" height="129"/><rect class="bx b" x="630" y="1767.5" width="278" height="129"/>
<text class="t" x="769" y="1783">msRoundedRectangle.TmsRoundedRectangle</text>
<use href="#C" x="637" y="1794.3"/><text class="m" x="645" y="1798.3">Fields</text><use href="#P" x="896" y="1794.3"/>
<use href="#E" x="637" y="1809.7"/><text class="m" x="645" y="1813.7">Methods</text><use href="#P" x="896" y="1809.7"/>
<text class="m u" x="639.5" y="1829.7">CornerRadius:Single</text>
<text class="m u" x="639.5" y="1844.7">InitialHeight:Single</text>
<text class="m u" x="639.5" y="1859.7">InitialWidth:Single</text>
<text class="m" x="639.5" y="1874.7">TransformDrawOptionsContext</text>
<use href="#C" x="637" y="1886.7"/><text class="m" x="645" y="1890.7">Properties</text><use href="#P" x="896" y="1886.7"/>
<use href="#K" x="634" y="1889.5"/>
</g>

<g id="n-TmsLineWithArrow">
<rect class="sd" x="1010.5" y="1790.5" width="227" height="99"/><rect class="bx b" x="1007.5" y="1787.5" width="227" height="99"/>
<text class="t" x="1121" y="1803.5">msLineWithArrow.TmsLineWithArrow</text>
<use href="#C" x="1014.5" y="1814.7"/><text class="m" x="1022.5" y="1818.7">Fields</text><use href="#P" x="1222.5" y="1814.7"/>
<use href="#E" x="1014.5" y="1830"/><text class="m" x="1022.5" y="1834">Methods</text><use href="#P" x="1222.5" y="1830"/>
<text class="m" x="1017" y="1849.7">DoDrawTo</text>
<text class="m" x="1017" y="1864.7">GetArrowAngleRotation:Single</text>
<use href="#C" x="1014.5" y="1877"/><text class="m" x="1022.5" y="1881">Properties</text><use href="#P" x="1222.5" y="1877"/>
<use href="#K" x="1011.5" y="1879.5"/>
</g>

<g id="n-TmsDotLine">
<rect class="sd" x="1412" y="1810.5" width="185" height="84"/><rect class="bx b" x="1409" y="1807.5" width="185" height="84"/>
<text class="t" x="1501.5" y="1823">msDotLine.TmsDotLine</text>
<use href="#C" x="1416" y="1834.7"/><text class="m" x="1424" y="1838.7">Fields</text><use href="#P" x="1582" y="1834.7"/>
<use href="#E" x="1416" y="1849.7"/><text class="m" x="1424" y="1853.7">Methods</text><use href="#P" x="1582" y="1849.7"/>
<text class="m" x="1418.5" y="1869.7">TransformDrawOptionsContext</text>
<use href="#C" x="1416" y="1882"/><text class="m" x="1424" y="1886">Properties</text><use href="#P" x="1582" y="1882"/>
<use href="#K" x="1413" y="1884.5"/>
</g>

<g id="n-TmsInvalidatorsList">
<rect class="sd" x="30.5" y="1990.5" width="213" height="36"/><rect class="bx b" x="27.5" y="1987.5" width="213" height="36"/>
<text class="s" x="134" y="2001">&lt;&lt;typedef&gt;&gt;</text>
<text class="tl" x="32.5" y="2017">TmsInvalidatorsList:TList&lt;Pointer&gt;</text>
<use href="#K" x="31.5" y="2016.5"/>
</g>

<g id="n-TmsInvalidators">
<rect class="sd" x="30.5" y="2090.5" width="205.5" height="146"/><rect class="bx b" x="27.5" y="2087.5" width="205.5" height="146"/>
<text class="t" x="130.25" y="2103.5">msInvalidators.TmsInvalidators</text>
<use href="#E" x="34.5" y="2114.7"/><text class="m" x="42.5" y="2118.7">Fields</text><use href="#P" x="221" y="2114.7"/>
<text class="m u" x="34.5" y="2134.7">-&#160;f_Subscribers:TmsInvalidatorsList</text>
<use href="#E" x="34.5" y="2146.7"/><text class="m" x="42.5" y="2150.7">Methods</text><use href="#P" x="221" y="2146.7"/>
<text class="m u" x="35" y="2166.7">+&#160;&#160;Destroy</text>
<text class="m u" x="35" y="2181.7">+&#160;&#160;InvalidateDiagramm</text>
<text class="m u" x="35" y="2196.7">+&#160;&#160;Subscribe</text>
<text class="m u" x="35" y="2211.7">+&#160;&#160;UnSubscribe</text>
<use href="#C" x="34.5" y="2224"/><text class="m" x="42.5" y="2228">Properties</text><use href="#P" x="221" y="2224"/>
<use href="#K" x="31.5" y="2226.5"/>
</g>

<g id="n-TmsMarshalPrim">
<rect class="sd" x="350.5" y="1990.5" width="203.5" height="145.5"/><rect class="bx b" x="347.5" y="1987.5" width="203.5" height="145.5"/>
<text class="t" x="449.25" y="2003.5">msMarshalPrim.TmsMarshalPrim</text>
<use href="#E" x="354.5" y="2014.7"/><text class="m" x="362.5" y="2018.7">Fields</text><use href="#P" x="539" y="2014.7"/>
<text class="m u" x="354" y="2034.7">-&#160;f_Marshal:TJSONMarshal</text>
<text class="m u" x="354" y="2049.7">-&#160;f_UnMarshal:TJSONUnMarshal</text>
<use href="#E" x="354.5" y="2062"/><text class="m" x="362.5" y="2066">Methods</text><use href="#P" x="539" y="2062"/>
<text class="m u" x="357.5" y="2081.7">Destroy</text>
<text class="m u" x="357.5" y="2096.7">Marshal:TJSONMarshal</text>
<text class="m u" x="357.5" y="2111.7">UnMarshal:TJSONUnMarshal</text>
<use href="#C" x="354.5" y="2124"/><text class="m" x="362.5" y="2128">Properties</text><use href="#P" x="539" y="2124"/>
<use href="#K" x="351.5" y="2126"/>
</g>

<g id="n-DiagrammMarshal-TmsMarshal">
<rect class="sd" x="348.5" y="2197.5" width="209.5" height="69"/><rect class="bx b" x="345.5" y="2194.5" width="209.5" height="69"/>
<text class="t" x="450.25" y="2210">msDiagrammMarshal.TmsMarshal</text>
<use href="#C" x="352.5" y="2221.7"/><text class="m" x="360.5" y="2225.7">Fields</text><use href="#P" x="543" y="2221.7"/>
<use href="#E" x="352.5" y="2236.7"/><text class="m" x="360.5" y="2240.7">Methods</text><use href="#P" x="543" y="2236.7"/>
<use href="#C" x="352.5" y="2253.7"/><text class="m" x="360.5" y="2257.7">Properties</text><use href="#P" x="543" y="2253.7"/>
<use href="#K" x="349.5" y="2256.5"/>
</g>

<g id="n-TmsDiagrammMarshal">
<rect class="sd" x="328.5" y="2317.5" width="268.5" height="67"/><rect class="bx b" x="325.5" y="2314.5" width="268.5" height="67"/>
<text class="t" x="459.75" y="2330">msDiagrammMarshal.TmsDiagrammMarshal</text>
<use href="#C" x="332.5" y="2341.7"/><text class="m" x="340.5" y="2345.7">Fields</text><use href="#P" x="582" y="2341.7"/>
<use href="#C" x="332.5" y="2356.7"/><text class="m" x="340.5" y="2360.7">Methods</text><use href="#P" x="582" y="2356.7"/>
<use href="#C" x="332.5" y="2372"/><text class="m" x="340.5" y="2376">Properties</text><use href="#P" x="582" y="2372"/>
<use href="#K" x="329.5" y="2374.5"/>
</g>

<g id="n-TClassToSerialize-TmsDiagramm">
<rect class="sd" x="690.5" y="1950.5" width="207" height="36"/><rect class="bx b" x="687.5" y="1947.5" width="207" height="36"/>
<text class="s" x="791" y="1961">&lt;&lt;typedef&gt;&gt;</text>
<text class="tl" x="692.5" y="1977.5">TClassToSerialize:TmsDiagramm</text>
<use href="#K" x="691.5" y="1976.5"/>
</g>

<g id="n-TClassToSerialize-TmsDiagramms">
<rect class="sd" x="690.5" y="2030.5" width="212.5" height="36"/><rect class="bx b" x="687.5" y="2027.5" width="212.5" height="36"/>
<text class="s" x="793.75" y="2041">&lt;&lt;typedef&gt;&gt;</text>
<text class="tl" x="692.5" y="2057">TClassToSerialize:TmsDiagramms</text>
<use href="#K" x="691.5" y="2056.5"/>
</g>

<g id="n-TmsLogLambda">
<rect class="sd" x="950.5" y="1950.5" width="198.5" height="36"/><rect class="bx p" x="947.5" y="1947.5" width="198.5" height="36"/>
<text class="s" x="1046.75" y="1961">&lt;&lt;delegate&gt;&gt;</text>
<text class="tl" x="952.5" y="1977.5">msCoreObjects.TmsLogLambda</text>
<use href="#K" x="951.5" y="1976.5"/>
</g>

<g id="n-TmsClassInstanceCountList">
<rect class="sd" x="1190.5" y="1950.5" width="439" height="36"/><rect class="bx b" x="1187.5" y="1947.5" width="439" height="36"/>
<text class="s" x="1407" y="1961">&lt;&lt;typedef&gt;&gt;</text>
<text class="tl" x="1192.5" y="1977.5">TmsClassInstanceCountList:TDictionary&lt;String, TmsClassInstanceCount&gt;</text>
<use href="#K" x="1191.5" y="1976.5"/>
</g>

<g id="n-TmsDiagrammsMarshal">
<rect class="sd" x="651" y="2130.5" width="281" height="67"/><rect class="bx b" x="648" y="2127.5" width="281" height="67"/>
<text class="t" x="788.5" y="2143.5">msDiagrammsMarshal.TmsDiagrammsMarshal</text>
<use href="#C" x="655" y="2154.7"/><text class="m" x="663" y="2158.7">Fields</text><use href="#P" x="917" y="2154.7"/>
<use href="#C" x="655" y="2169.7"/><text class="m" x="663" y="2173.7">Methods</text><use href="#P" x="917" y="2169.7"/>
<use href="#C" x="655" y="2185"/><text class="m" x="663" y="2189">Properties</text><use href="#P" x="917" y="2185"/>
<use href="#K" x="652" y="2187.5"/>
</g>

<g id="n-DiagrammsMarshal-TmsMarshal">
<rect class="sd" x="690.5" y="2290.5" width="216.5" height="69"/><rect class="bx b" x="687.5" y="2287.5" width="216.5" height="69"/>
<text class="t" x="795.75" y="2303">msDiagrammsMarshal.TmsMarshal</text>
<use href="#C" x="694.5" y="2314.7"/><text class="m" x="702.5" y="2318.7">Fields</text><use href="#P" x="892" y="2314.7"/>
<use href="#E" x="694.5" y="2329.7"/><text class="m" x="702.5" y="2333.7">Methods</text><use href="#P" x="892" y="2329.7"/>
<use href="#C" x="694.5" y="2346.7"/><text class="m" x="702.5" y="2350.7">Properties</text><use href="#P" x="892" y="2346.7"/>
<use href="#K" x="691.5" y="2349.5"/>
</g>

<g id="n-TmsLog">
<rect class="sd" x="1170.5" y="2050.5" width="153" height="146"/><rect class="bx b" x="1167.5" y="2047.5" width="153" height="146"/>
<text class="t" x="1244" y="2063.5">msCoreObjects.TmsLog</text>
<use href="#E" x="1174.5" y="2075"/><text class="m" x="1182.5" y="2079">Fields</text><use href="#P" x="1308.5" y="2075"/>
<text class="m" x="1174" y="2095">-&#160;f_FS:TFileStream</text>
<use href="#E" x="1174.5" y="2107"/><text class="m" x="1182.5" y="2111">Methods</text><use href="#P" x="1308.5" y="2107"/>
<text class="m" x="1175" y="2127">+&#160;&#160;Create</text>
<text class="m" x="1175" y="2142">+&#160;&#160;Destroy</text>
<text class="m u" x="1175" y="2157">+&#160;&#160;Log</text>
<text class="m" x="1175" y="2172">+&#160;&#160;ToLog</text>
<use href="#C" x="1174.5" y="2184"/><text class="m" x="1182.5" y="2188">Properties</text><use href="#P" x="1308.5" y="2184"/>
<use href="#K" x="1171.5" y="2186.5"/>
</g>

<g id="n-TmsDefferedObjects">
<rect class="sd" x="1391" y="2050.5" width="251" height="98"/><rect class="bx b" x="1388" y="2047.5" width="251" height="98"/>
<text class="s" x="1513.5" y="2060">System.Generics.Collections.TList&lt;System.TObject&gt;</text>
<text class="t" x="1513.5" y="2077.5">msCoreObjects.TmsDefferedObjects</text>
<use href="#C" x="1395" y="2088.7"/><text class="m" x="1403" y="2092.7">Fields</text><use href="#P" x="1627" y="2088.7"/>
<use href="#E" x="1395" y="2104"/><text class="m" x="1403" y="2108">Methods</text><use href="#P" x="1627" y="2104"/>
<text class="m" x="1396" y="2124">+&#160;&#160;Destroy</text>
<use href="#C" x="1395" y="2136"/><text class="m" x="1403" y="2140">Properties</text><use href="#P" x="1627" y="2136"/>
<use href="#K" x="1392" y="2138.5"/>
</g>

<g id="n-TmsObjectsWatcher">
<rect class="sd" x="1210" y="2250.5" width="266.5" height="191"/><rect class="bx b" x="1207" y="2247.5" width="266.5" height="191"/>
<text class="t" x="1340.25" y="2263.5">msCoreObjects.TmsObjectsWatcher</text>
<use href="#E" x="1214" y="2275"/><text class="m" x="1222" y="2279">Fields</text><use href="#P" x="1461.5" y="2275"/>
<text class="m u" x="1214" y="2294.7">f_DefferedObjects:TmsDefferedObjects</text>
<text class="m u" x="1214" y="2309.7">f_ObjectsCreated:TmsClassInstanceCountList</text>
<text class="m u" x="1214" y="2324.7">f_ObjectsCreatedCount:Integer</text>
<use href="#E" x="1214" y="2337"/><text class="m" x="1222" y="2341">Methods</text><use href="#P" x="1461.5" y="2337"/>
<text class="m u" x="1214.5" y="2356.7">+&#160;&#160;CreateObject</text>
<text class="m u" x="1214.5" y="2371.7">+&#160;&#160;Destroy</text>
<text class="m u" x="1214.5" y="2386.7">+&#160;&#160;DestroyObject</text>
<text class="m u" x="1214.5" y="2401.7">+&#160;&#160;ObjectCreated</text>
<text class="m u" x="1214.5" y="2416.7">+&#160;&#160;ObjectDestroyed</text>
<use href="#C" x="1214" y="2429"/><text class="m" x="1222" y="2433">Properties</text><use href="#P" x="1461.5" y="2429"/>
<use href="#K" x="1211" y="2431.5"/>
</g>

<g id="n-TestClassDiagram">
<path d="M30.5,2410.5V2393q0,-3 3,-3H76q3,0 3,3V2410.5Z" fill="#000" opacity=".2"/>
<rect class="sd" x="30.5" y="2410.5" width="123.5" height="22"/>
<path d="M27.5,2407.5V2390q0,-3 3,-3H73q3,0 3,3V2407.5Z" fill="url(#gk)" stroke="#333" stroke-width="1.2"/>
<rect class="bx k" x="27.5" y="2407.5" width="123.5" height="22"/>
<text class="tl" x="32" y="2423.5">TestClass Diagram</text>
</g>

<g id="connectors">
<path class="as" d="M250,48.5H321.5"/>
<path class="as" d="M482.5,552.5H653.5"/>
<path class="as" d="M482.5,579.5H653.5"/>
<path class="as" d="M883.5,317.5H948"/>
<path class="as" d="M883.5,549.5H1308"/>
<path class="as" d="M1189,387.5H1308"/>
<path class="al" d="M392.7,887.5L653.5,603.5"/>
<path class="al" d="M164,1167.5L258.8,1043.5"/>
<path class="as" d="M1310.5,1099V1131H1352V1090H1319"/>
<path class="as" d="M130.5,2023.5V2087.5"/>
<path class="as" d="M1340.5,1983.5V2247.5"/>
<path class="as" d="M1430.5,2145.5V2247.5"/>
<path class="ge" d="M417.5,88.5V187.5"/>
<path class="ge" d="M1454.5,127.5V43.5"/>
<path class="ge" d="M1529.5,267.5V210.5"/>
<path class="ge" d="M1394.5,368V210.5"/>
<path class="ge" d="M782.5,908V863.5"/>
<path class="ge" d="M782.5,1087.5V1036"/>
<path class="ge" d="M768.5,1227.5V1172"/>
<path class="ge" d="M196.5,1307.5H327.5"/>
<path class="ge" d="M437.5,1329.5H633.5"/>
<path class="ge" d="M193,1438.5H633.5"/>
<path class="ge" d="M1027.5,1319.5H904"/>
<path class="ge" d="M1027,1496.5H904"/>
<path class="ge" d="M768.5,1567.5V1526"/>
<path class="ge" d="M1417.5,1215.5L1213,1283.5"/>
<path class="ge" d="M1358,1316.5H1213"/>
<path class="ge" d="M1397.5,1479H1215"/>
<path class="ge" d="M1409,1606H1215"/>
<path class="ge" d="M1445,1807.5L1215,1630"/>
<path class="ge" d="M1120.5,1787.5V1645.5"/>
<path class="ge" d="M100.5,1587.5V1511.5"/>
<path class="ge" d="M116.5,1787.5V1686.5"/>
<path class="ge" d="M594,1686.5H676"/>
<path class="ge" d="M529.5,1787.5L676,1700"/>
<path class="ge" d="M768.5,1767.5V1726.5"/>
<path class="ge" d="M449.5,2194.5V2133"/>
<path class="ge" d="M450.5,2314.5V2263.5"/>
<path class="ge" d="M749.5,2287.5L547,2134"/>
<path class="ge" d="M795.5,2194.5V2287.5"/>
<path class="re" d="M696.5,227.5V204.5L490.5,90"/>
<path class="re" d="M653.5,304.5H642L496.5,259"/>
<path class="re" d="M633.5,1249.5L406,1045"/>
</g>
</svg>
